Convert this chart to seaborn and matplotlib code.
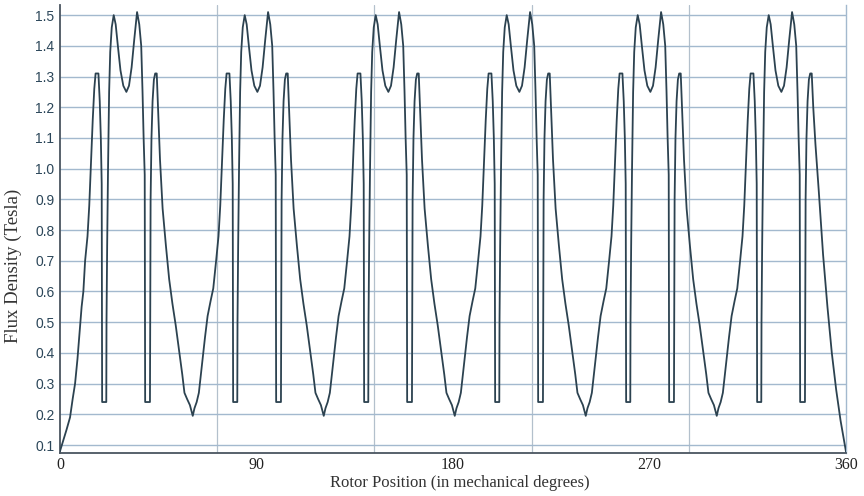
import matplotlib
matplotlib.use("Agg")
import matplotlib.pyplot as plt
import seaborn as sns
import pandas as pd

# ---- data (rotor position in mechanical degrees, flux density in tesla) ----
deg_p1 = [0.0, 1.5, 3.0, 4.6, 5.8, 6.9, 8.0, 9.0, 9.9, 10.7,
          11.5, 12.6, 13.4, 14.2, 15.0, 15.7, 16.3, 17.6, 18.2, 18.7, 19.1, 19.2, 19.3,
          21.2, 21.3, 21.6, 22.0, 22.5, 23.0, 23.7, 24.6, 25.5, 26.5, 27.7, 29.0, 30.4,
          31.6, 32.8, 34.0, 35.3, 36.3, 37.2, 37.8, 38.3, 38.8, 38.9, 39.0, 41.2, 41.3,
          41.5, 41.9, 42.4, 43.0, 43.6, 44.3, 45.0, 45.8, 47.0, 48.5, 50.0, 51.5, 53.0,
          54.5, 56.0, 57.0, 58.2, 59.5]
flux_p1 = [0.08, 0.115, 0.15, 0.19, 0.25, 0.30, 0.38, 0.47, 0.55, 0.60,
           0.70, 0.78, 0.88, 1.02, 1.16, 1.26, 1.31, 1.31, 1.22, 1.10, 0.95, 0.48, 0.24,
           0.24, 0.50, 0.75, 1.00, 1.25, 1.38, 1.46, 1.50, 1.47, 1.40, 1.32, 1.27, 1.25,
           1.27, 1.33, 1.42, 1.51, 1.47, 1.40, 1.25, 1.10, 0.98, 0.50, 0.24, 0.24, 0.48,
           0.90, 1.10, 1.22, 1.29, 1.31, 1.31, 1.18, 1.03, 0.87, 0.75, 0.64, 0.56, 0.49,
           0.41, 0.33, 0.27, 0.25, 0.23]

deg_p2 = [60.8, 61.6, 62.6, 63.6, 65.0, 66.4, 67.6, 69.0, 70.2, 71.5, 72.6, 73.4, 74.2,
          75.0, 75.7, 76.3, 77.6, 78.2, 78.7, 79.1, 79.2, 79.3, 81.2, 81.3, 81.6, 82.0,
          82.5, 83.0, 83.7, 84.6, 85.5, 86.5, 87.7, 89.0, 90.4, 91.6, 92.8, 94.0, 95.3,
          96.3, 97.2, 97.8, 98.3, 98.8, 98.9, 99.0, 101.2, 101.3, 101.5, 101.9, 102.4,
          103.0, 103.6, 104.3, 105.0, 105.8, 107.0, 108.5, 110.0, 111.5, 113.0, 114.5,
          116.0, 117.0, 118.2, 119.5]
flux_p2 = [0.195, 0.22, 0.24, 0.27, 0.36, 0.45, 0.52, 0.57, 0.61, 0.70, 0.78, 0.88, 1.02,
           1.16, 1.26, 1.31, 1.31, 1.22, 1.10, 0.95, 0.48, 0.24, 0.24, 0.50, 0.75, 1.00,
           1.25, 1.38, 1.46, 1.50, 1.47, 1.40, 1.32, 1.27, 1.25, 1.27, 1.33, 1.42, 1.51,
           1.47, 1.40, 1.25, 1.10, 0.98, 0.50, 0.24, 0.24, 0.48, 0.90, 1.10, 1.22,
           1.29, 1.31, 1.31, 1.18, 1.03, 0.87, 0.75, 0.64, 0.56, 0.49, 0.41,
           0.33, 0.27, 0.25, 0.23]

deg_p3 = [120.8, 121.6, 122.6, 123.6, 125.0, 126.4, 127.6, 129.0, 130.2, 131.5, 132.6, 133.4,
          134.2, 135.0, 135.7, 136.3, 137.6, 138.2, 138.7, 139.1, 139.2, 139.3, 141.2, 141.3,
          141.6, 142.0, 142.5, 143.0, 143.7, 144.6, 145.5, 146.5, 147.7, 149.0, 150.4, 151.6,
          152.8, 154.0, 155.3, 156.3, 157.2, 157.8, 158.3, 158.8, 158.9, 159.0, 161.2, 161.3,
          161.5, 161.9, 162.4, 163.0, 163.6, 164.3, 165.0, 165.8, 167.0, 168.5, 170.0, 171.5,
          173.0, 174.5, 176.0, 177.0, 178.2, 179.5]
flux_p3 = [0.195, 0.22, 0.24, 0.27, 0.36, 0.45, 0.52, 0.57, 0.61, 0.70, 0.78, 0.88,
           1.02, 1.16, 1.26, 1.31, 1.31, 1.22, 1.10, 0.95, 0.48, 0.24, 0.24, 0.50,
           0.75, 1.00, 1.25, 1.38, 1.46, 1.50, 1.47, 1.40, 1.32, 1.27, 1.25, 1.27,
           1.33, 1.42, 1.51, 1.47, 1.40, 1.25, 1.10, 0.98, 0.50, 0.24, 0.24, 0.48,
           0.90, 1.10, 1.22, 1.29, 1.31, 1.31, 1.18, 1.03, 0.87, 0.75, 0.64, 0.56,
           0.49, 0.41, 0.33, 0.27, 0.25, 0.23]

deg_p4 = [180.8, 181.6, 182.6, 183.6, 185.0, 186.4, 187.6, 189.0, 190.2, 191.5, 192.6, 193.4,
          194.2, 195.0, 195.7, 196.3, 197.6, 198.2, 198.7, 199.1, 199.2, 199.3, 201.2, 201.3,
          201.6, 202.0, 202.5, 203.0, 203.7, 204.6, 205.5, 206.5, 207.7, 209.0, 210.4, 211.6,
          212.8, 214.0, 215.3, 216.3, 217.2, 217.8, 218.3, 218.8, 218.9, 219.0, 221.2, 221.3,
          221.5, 221.9, 222.4, 223.0, 223.6, 224.3, 225.0, 225.8, 227.0, 228.5, 230.0, 231.5,
          233.0, 234.5, 236.0, 237.0, 238.2, 239.5]
flux_p4 = [0.195, 0.22, 0.24, 0.27, 0.36, 0.45, 0.52, 0.57, 0.61, 0.70, 0.78, 0.88,
           1.02, 1.16, 1.26, 1.31, 1.31, 1.22, 1.10, 0.95, 0.48, 0.24, 0.24, 0.50,
           0.75, 1.00, 1.25, 1.38, 1.46, 1.50, 1.47, 1.40, 1.32, 1.27, 1.25, 1.27,
           1.33, 1.42, 1.51, 1.47, 1.40, 1.25, 1.10, 0.98, 0.50, 0.24, 0.24, 0.48,
           0.90, 1.10, 1.22, 1.29, 1.31, 1.31, 1.18, 1.03, 0.87, 0.75, 0.64, 0.56,
           0.49, 0.41, 0.33, 0.27, 0.25, 0.23]

deg_p5 = [240.8, 241.6, 242.6, 243.6, 245.0, 246.4, 247.6, 249.0, 250.2, 251.5, 252.6, 253.4,
          254.2, 255.0, 255.7, 256.3, 257.6, 258.2, 258.7, 259.1, 259.2, 259.3, 261.2, 261.3,
          261.6, 262.0, 262.5, 263.0, 263.7, 264.6, 265.5, 266.5, 267.7, 269.0, 270.4, 271.6,
          272.8, 274.0, 275.3, 276.3, 277.2, 277.8, 278.3, 278.8, 278.9, 279.0, 281.2, 281.3,
          281.5, 281.9, 282.4, 283.0, 283.6, 284.3, 285.0, 285.8, 287.0, 288.5, 290.0, 291.5,
          293.0, 294.5, 296.0, 297.0, 298.2, 299.5]
flux_p5 = [0.195, 0.22, 0.24, 0.27, 0.36, 0.45, 0.52, 0.57, 0.61, 0.70, 0.78, 0.88,
           1.02, 1.16, 1.26, 1.31, 1.31, 1.22, 1.10, 0.95, 0.48, 0.24, 0.24, 0.50,
           0.75, 1.00, 1.25, 1.38, 1.46, 1.50, 1.47, 1.40, 1.32, 1.27, 1.25, 1.27,
           1.33, 1.42, 1.51, 1.47, 1.40, 1.25, 1.10, 0.98, 0.50, 0.24, 0.24, 0.48,
           0.90, 1.10, 1.22, 1.29, 1.31, 1.31, 1.18, 1.03, 0.87, 0.75, 0.64, 0.56,
           0.49, 0.41, 0.33, 0.27, 0.25, 0.23]

deg_p6 = [300.8, 301.6, 302.6, 303.6, 305.0, 306.4, 307.6, 309.0, 310.2, 311.5, 312.6, 313.4,
          314.2, 315.0, 315.7, 316.3, 317.6, 318.2, 318.7, 319.1, 319.2, 319.3, 321.2, 321.3,
          321.6, 322.0, 322.5, 323.0, 323.7, 324.6, 325.5, 326.5, 327.7, 329.0, 330.4, 331.6,
          332.8, 334.0, 335.3, 336.3, 337.2, 337.8, 338.3, 338.8, 338.9, 339.0, 341.2, 341.3,
          341.5, 341.9, 342.4, 343.0, 343.6, 344.3, 345.0, 346.0, 347.5, 349.5, 351.5, 353.5,
          355.5, 357.5, 360.0]
flux_p6 = [0.195, 0.22, 0.24, 0.27, 0.36, 0.45, 0.52, 0.57, 0.61, 0.70, 0.78, 0.88,
           1.02, 1.16, 1.26, 1.31, 1.31, 1.22, 1.10, 0.95, 0.48, 0.24, 0.24, 0.50,
           0.75, 1.00, 1.25, 1.38, 1.46, 1.50, 1.47, 1.40, 1.32, 1.27, 1.25, 1.27,
           1.33, 1.42, 1.51, 1.47, 1.40, 1.25, 1.10, 0.98, 0.50, 0.24, 0.24, 0.48,
           0.90, 1.10, 1.22, 1.29, 1.31, 1.31, 1.20, 1.08, 0.93, 0.72, 0.55, 0.40,
           0.28, 0.18, 0.078]

x_ticks = [0, 90, 180, 270, 360]
x_grid = [72, 144, 216, 288]
y_ticks = [0.1, 0.2, 0.3, 0.4, 0.5, 0.6, 0.7, 0.8, 0.9, 1.0, 1.1, 1.2, 1.3, 1.4, 1.5]
x_label = "Rotor Position (in mechanical degrees)"
y_label = "Flux Density (Tesla)"

df = pd.DataFrame({
    "deg": deg_p1 + deg_p2 + deg_p3 + deg_p4 + deg_p5 + deg_p6,
    "flux": flux_p1 + flux_p2 + flux_p3 + flux_p4 + flux_p5 + flux_p6,
})

sns.set_style("white")
plt.rcParams["font.family"] = ["Liberation Serif", "DejaVu Serif"]

fig = plt.figure(figsize=(8.64, 4.96), dpi=100)
ax = fig.add_axes([60 / 864, 1 - 453 / 496, 786 / 864, 448 / 496])

grid_c = "#a3b9ce"
ax.set_xlim(0, 360)
ax.set_ylim(0.074, 1.533)
ax.set_xticks(x_ticks)
ax.set_xticks(x_grid, minor=True)
ax.set_yticks(y_ticks)
ax.set_yticklabels([f"{v:.1f}" for v in y_ticks], family=["Liberation Sans", "DejaVu Sans"],
                   fontsize=10, color="#2b4659")
ax.set_xticklabels([str(v) for v in x_ticks], fontsize=11.5, color="#222222")
ax.tick_params(axis="both", which="both", length=0)
ax.tick_params(axis="x", pad=3)
ax.tick_params(axis="y", pad=4)

ax.grid(False)
ax.grid(True, axis="y", which="major", color=grid_c, linewidth=1.0)
ax.grid(True, axis="x", which="minor", color="#b3c0cc", linewidth=0.9)

sns.lineplot(data=df, x="deg", y="flux", sort=False, estimator=None, ax=ax,
             color="#2c4250", linewidth=1.3, zorder=3)

for s in ["left", "bottom"]:
    ax.spines[s].set_color("#4a5560")
    ax.spines[s].set_linewidth(1.3)
ax.spines["top"].set_visible(False)
ax.spines["right"].set_color(grid_c)
ax.spines["right"].set_linewidth(1.0)

ax.set_xlabel(x_label, fontsize=12, color="#333333", va="top")
ax.set_ylabel(y_label, fontsize=13.5, color="#333333")
ax.xaxis.set_label_coords((460 - 60) / 786, (453 - 475) / 448)
ax.yaxis.set_label_coords((22 - 60) / 786, (453 - 266) / 448)

fig.savefig("out.png", dpi=100)
